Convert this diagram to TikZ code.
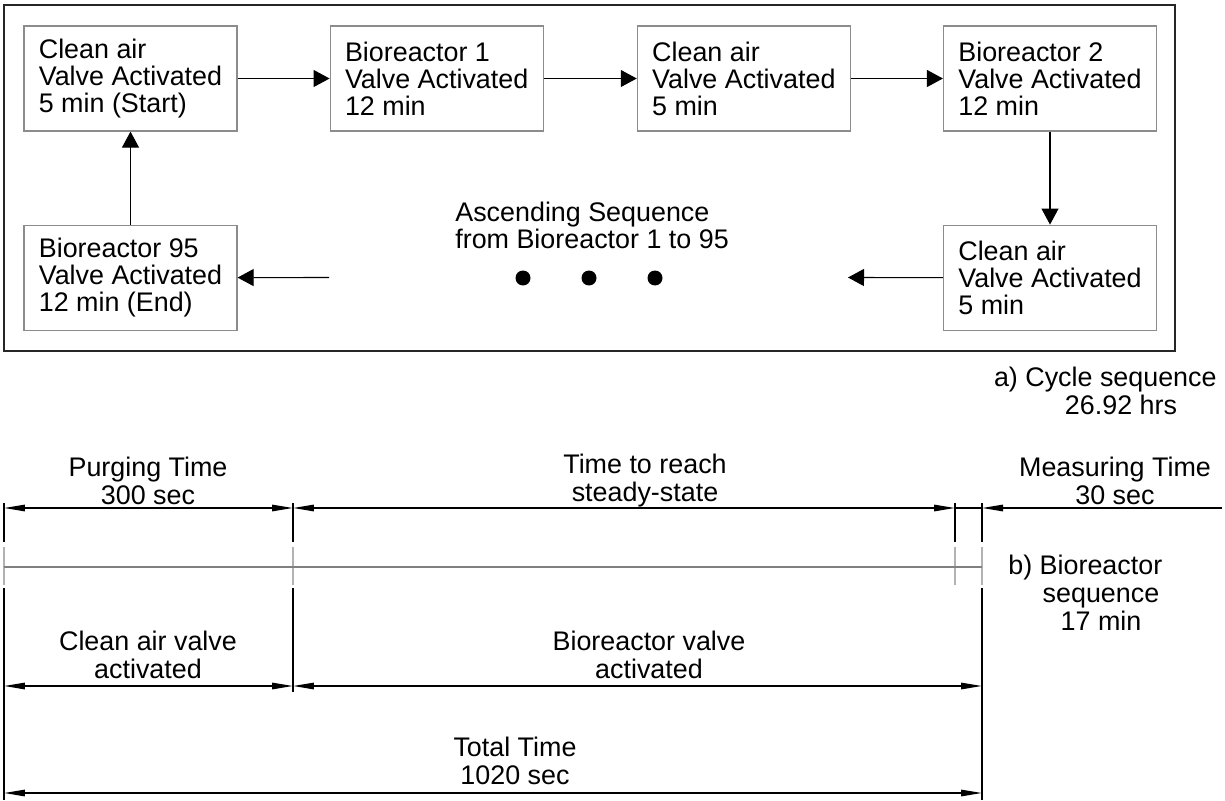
\documentclass[tikz,border=0pt]{standalone}
\usepackage{fontspec}
\setmainfont{Liberation Sans}
\usetikzlibrary{arrows.meta,positioning,calc}

\tikzset{
  valvebox/.style={rectangle, draw=black!45, line width=0.7pt, minimum width=4.26cm,
    minimum height=2.1cm, align=left, inner sep=0pt},
  flow/.style={line width=0.6pt, -{Triangle[length=0.32cm,width=0.34cm]}},
  dimline/.style={line width=0.8pt, {Triangle[length=0.42cm,width=0.13cm]}-{Triangle[length=0.42cm,width=0.13cm]}},
  dimend/.style={line width=0.8pt, -{Triangle[length=0.42cm,width=0.13cm]}},
  extline/.style={line width=0.7pt},
  extgray/.style={line width=1pt, black!30},
  lbl/.style={align=center, inner sep=0pt, font=\fontsize{15.3}{15.9}\selectfont},
  dotmark/.style={circle, fill, inner sep=0pt, minimum size=0.3cm}
}

\begin{document}
\begin{tikzpicture}[x=0.02cm,y=-0.02cm,font=\fontsize{15.3}{15.4}\selectfont]
  \useasboundingbox (0,0) rectangle (1225,801);

  % a) cycle sequence
  \draw[line width=0.8pt, black!85] (4,5) rectangle (1175,351);
  \node[valvebox] (clean1) at (130.5,78.5) {Clean air\\Valve Activated\\5 min (Start)};
  \node[valvebox, right=1.84cm of clean1] (bio1) {Bioreactor 1\\Valve Activated\\12 min};
  \node[valvebox, right=1.86cm of bio1] (clean2) {Clean air\\Valve Activated\\5 min};
  \node[valvebox, right=1.84cm of clean2] (bio2) {Bioreactor 2\\Valve Activated\\12 min};
  \node[valvebox, below=1.86cm of bio2] (clean3) {Clean air\\Valve Activated\\5 min};
  \node[valvebox, below=1.86cm of clean1] (bio95) {Bioreactor 95\\Valve Activated\\12 min (End)};
  \coordinate (gapR) at (848,277.5);
  \coordinate (gapL) at (329,277.5);

  \draw[flow] (clean1) -- (bio1);
  \draw[flow] (bio1) -- (clean2);
  \draw[flow] (clean2) -- (bio2);
  \draw[flow] (bio2) -- (clean3);
  \draw[flow] (clean3) -- (gapR);
  \draw[flow] (gapL) -- (bio95);
  \draw[flow] (bio95) -- (clean1);

  \node[align=left, inner sep=0pt, anchor=west] (ascend) at (455,225) {Ascending Sequence\\from Bioreactor 1 to 95};
  \foreach \x/\n in {523/dotA,589/dotB,655/dotC}
    \node[dotmark] (\n) at (\x,278) {};

  \node[lbl] (capA) at (1121,391) {\llap{a) }Cycle sequence\\26.92 hrs};

  % b) bioreactor sequence
  \coordinate (t0) at (4,508);
  \coordinate (t1) at (293,508);
  \coordinate (t2) at (955,508);
  \coordinate (t3) at (982,508);
  \coordinate (t4) at (1222,508);
  \coordinate (v0) at (4,686);
  \coordinate (v1) at (293,686);
  \coordinate (v2) at (982,686);
  \coordinate (s0) at (4,793);
  \coordinate (s2) at (982,793);

  \foreach \x in {4,293,955,982} {
    \draw[extline] (\x,503) -- (\x,542);
    \draw[extgray] (\x,547) -- (\x,585);
  }
  \draw[extline] (4,588) -- (4,800);
  \draw[extline] (293,588) -- (293,692);
  \draw[extline] (982,588) -- (982,800);
  \draw[line width=0.6pt, black!50] (4,567) -- (982,567); % time line

  \draw[dimline] (t0) -- (t1);
  \draw[dimline] (t1) -- (t2);
  \draw[line width=0.8pt] (t2) -- (t3);
  \draw[dimend] (t4) -- (t3); % measuring time, arrow from outside
  \draw[dimline] (v0) -- (v1);
  \draw[dimline] (v1) -- (v2);
  \draw[dimline] (s0) -- (s2);

  \node[lbl] (purge) at (148,481) {Purging Time\\300 sec};
  \node[lbl] (steady) at (645,481) {Time to reach\\steady-state};
  \node[lbl] (measure) at (1115,481) {Measuring Time\\30 sec};
  \node[lbl] (capB) at (1101,593) {\llap{b) }Bioreactor\\sequence\\17 min};
  \node[lbl] (airvalve) at (148,655) {Clean air valve\\activated};
  \node[lbl] (biovalve) at (649,655) {Bioreactor valve\\activated};
  \node[lbl] (total) at (515,761) {Total Time\\1020 sec};
\end{tikzpicture}
\end{document}
